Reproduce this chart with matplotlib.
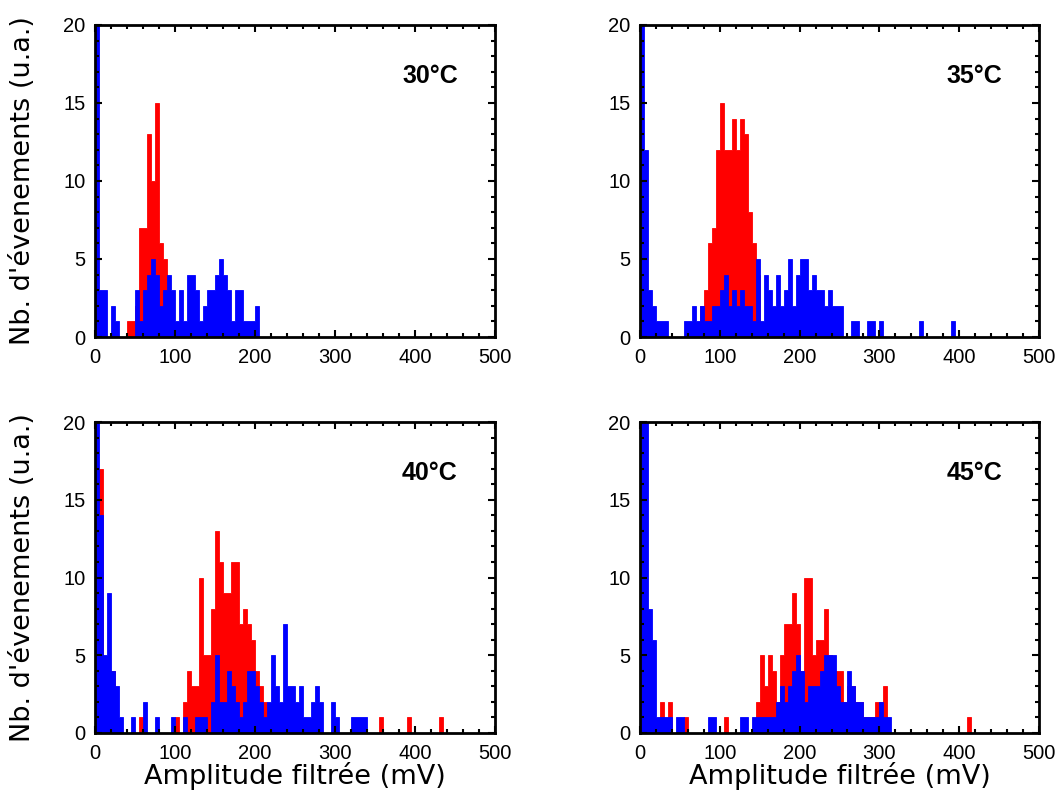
import numpy as np
import matplotlib
matplotlib.use("Agg")
import matplotlib.pyplot as plt
from matplotlib.ticker import MultipleLocator

# bin start (mV) / count, bins of 5 mV
b30_x = [0, 5, 10, 20, 25, 50, 55, 60, 65, 70, 75, 80, 85, 90, 95, 100, 105, 110, 115, 120,
         125, 130, 135, 140, 145, 150, 155, 160, 165, 170, 175, 180, 185, 190, 195, 200]
b30_n = [25, 3, 3, 2, 1, 3, 1, 3, 4, 5, 4, 2, 3, 4, 3, 1, 3, 1, 4, 4,
         3, 1, 2, 3, 3, 4, 5, 4, 3, 1, 3, 3, 1, 1, 1, 2]
r30_x = [40, 45, 50, 55, 60, 65, 70, 75, 80, 85, 90]
r30_n = [1, 1, 2, 7, 7, 13, 10, 15, 6, 5, 2]

b35_x = [0, 5, 10, 15, 20, 25, 30] + list(range(55, 255, 5)) + [265, 270, 285, 290, 300, 350, 390]
b35_n = [25, 12, 3, 2, 1, 1, 1,
         1, 1, 2, 1, 2, 1, 1, 2, 2, 3,
         4, 2, 3, 2, 3, 2, 2, 1, 5, 1,
         4, 3, 2, 4, 2, 3, 5, 2, 4, 5,
         5, 3, 4, 3, 3, 2, 3, 2, 2, 2,
         1, 1, 1, 1, 1, 1, 1]
r35_x = [75, 80, 85, 90, 95, 100, 105, 110, 115, 120, 125, 130, 135, 140, 145]
r35_n = [2, 3, 6, 7, 12, 15, 12, 12, 14, 12, 14, 13, 8, 6, 4]

b40_x = [0, 5, 10, 15, 20, 25, 30, 45, 60, 75, 95, 110, 125, 130, 135] + list(range(145, 285, 5)) \
    + [295, 300, 320, 325, 330, 335]
b40_n = [25, 14, 5, 9, 4, 3, 1, 1, 2, 1, 1, 1, 1, 1, 1,
         2, 5, 2, 2, 4, 3, 2, 1, 2, 4,
         4, 3, 2, 1, 2, 5, 3, 2, 7, 3,
         3, 2, 3, 1, 1, 2, 3, 2,
         2, 1, 1, 1, 1, 1]
r40_x = [5, 20, 55, 100] + list(range(110, 215, 5)) + [355, 390, 430]
r40_n = [17, 4, 1, 1,
         2, 4, 3, 3, 10, 5, 5, 8, 13, 11,
         9, 9, 11, 11, 7, 8, 7, 6, 4, 3,
         2, 1, 1, 1]

b45_x = [0, 5, 10, 15, 20, 25, 30, 35, 45, 50, 85, 90, 125, 130] + list(range(140, 315, 5))
b45_n = [25, 22, 8, 6, 1, 1, 1, 1, 1, 1, 1, 1, 1, 1,
         1, 1, 1, 1, 1, 1, 2, 3, 2, 3,
         4, 5, 4, 2, 3, 3, 3, 4, 5, 5,
         5, 3, 2, 2, 4, 3, 2, 2, 1, 1,
         1, 1, 2, 1, 1]
r45_x = [25, 35, 55, 105] + list(range(145, 310, 5)) + [410]
r45_n = [2, 2, 1, 1,
         2, 5, 3, 5, 4, 2, 5, 7, 7, 9,
         7, 4, 10, 10, 5, 6, 6, 8, 5, 4,
         4, 4, 2, 3, 3, 2, 2, 1, 1, 1,
         2, 2, 3, 1]

labels = ["30°C", "35°C", "40°C", "45°C"]
blue = [(b30_x, b30_n), (b35_x, b35_n), (b40_x, b40_n), (b45_x, b45_n)]
red = [(r30_x, r30_n), (r35_x, r35_n), (r40_x, r40_n), (r45_x, r45_n)]

edges = np.arange(0, 505, 5)


def to_counts(xs, ns):
    c = np.zeros(len(edges) - 1)
    c[np.array(xs) // 5] = ns
    return c


plt.rcParams["font.family"] = ["Liberation Sans", "DejaVu Sans"]

W, H = 1064, 808
fig = plt.figure(figsize=(W / 100, H / 100), dpi=100)

# axes boxes in pixels: left, top, right, bottom
boxes = [(95, 25, 495, 337), (640, 25, 1039, 337),
         (95, 422, 495, 733), (640, 422, 1039, 733)]

for i, (l, t, r, b) in enumerate(boxes):
    ax = fig.add_axes([l / W, 1 - b / H, (r - l) / W, (b - t) / H])
    ax.stairs(to_counts(*red[i]), edges, fill=True, facecolor="#ff0000",
              edgecolor="#ff0000", lw=0.6)
    ax.stairs(to_counts(*blue[i]), edges, fill=True, facecolor="#0000ff",
              edgecolor="#0000ff", lw=0.6)

    ax.set_xlim(0, 500)
    ax.set_ylim(0, 20)
    ax.xaxis.set_major_locator(MultipleLocator(100))
    ax.xaxis.set_minor_locator(MultipleLocator(20))
    ax.yaxis.set_major_locator(MultipleLocator(5))
    ax.yaxis.set_minor_locator(MultipleLocator(1))
    ax.tick_params(which="both", direction="in", top=True, right=True, width=1.5,
                   labelsize=14.5)
    ax.tick_params(which="major", length=5)
    ax.tick_params(which="minor", length=3)
    ax.tick_params(axis="x", pad=8)
    ax.tick_params(axis="y", pad=7)
    for s in ax.spines.values():
        s.set_linewidth(2)

    ax.text(0.8375, 0.835, labels[i], transform=ax.transAxes, ha="center", va="center",
            fontsize=18, fontweight="bold")

    if i % 2 == 0:
        ax.set_ylabel("Nb. d'évenements (u.a.)", fontsize=19.5, family="DejaVu Sans")
        ax.yaxis.set_label_coords(-0.147, 0.5)
    if i >= 2:
        ax.set_xlabel("Amplitude filtrée (mV)", fontsize=19.5, family="DejaVu Sans")
        ax.xaxis.set_label_coords(0.5, -0.093)

fig.savefig("out.png", dpi=100)
